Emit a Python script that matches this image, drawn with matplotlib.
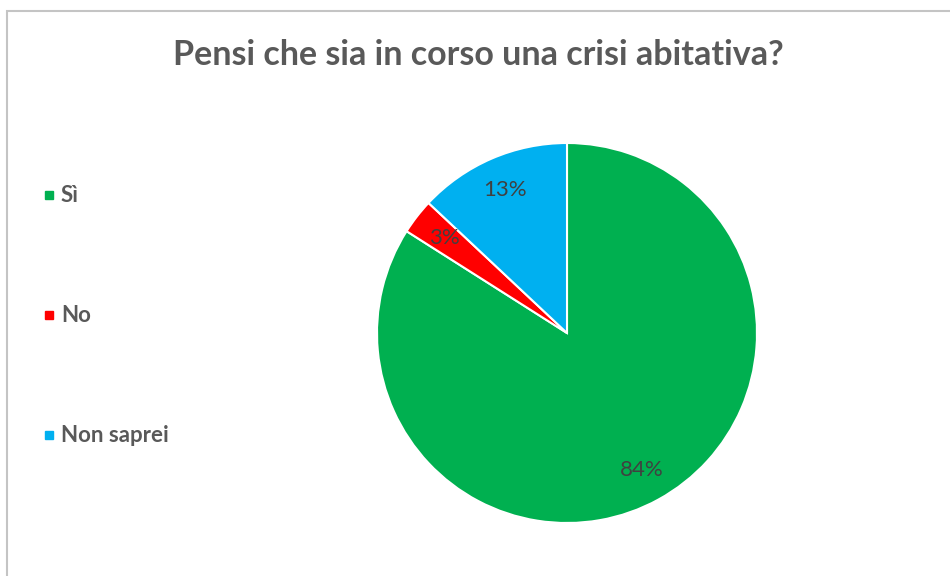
import matplotlib
matplotlib.use('Agg')
import matplotlib.pyplot as plt
from matplotlib.lines import Line2D
from matplotlib.patches import Rectangle

plt.rcParams['font.family'] = ['Lato', 'DejaVu Sans']

# Data
labels = ['Sì', 'No', 'Non saprei']
values = [84, 3, 13]
colors = ['#00B050', '#FF0000', '#00B0F0']

TITLE = 'Pensi che sia in corso una crisi abitativa?'
GRAY = '#595959'
DARK = '#404040'

W, H = 950, 576
fig = plt.figure(figsize=(W / 100, H / 100), dpi=100, facecolor='white')

# Chart frame (cropped on right and bottom)
fig.add_artist(Rectangle((6.5 / W, -0.1), 1.2, (H - 10.5) / H + 0.1,
                         transform=fig.transFigure, fill=False,
                         edgecolor='#C4C4C4', linewidth=1.5))

# Pie: centre (567, 333) px, radius 190 px
cx, cy, r = 567, 333, 190
ax = fig.add_axes([(cx - r) / W, (H - cy - r) / H, 2 * r / W, 2 * r / H])
wedges, _, autotexts = ax.pie(values, colors=colors, startangle=90,
                              counterclock=False, autopct='%1.0f%%',
                              pctdistance=0.82,
                              wedgeprops=dict(edgecolor='white', linewidth=1.5),
                              textprops=dict(color=DARK, fontsize=16))
ax.set_xlim(-1, 1)
ax.set_ylim(-1, 1)
ax.set_aspect('equal')
ax.axis('off')

# Title
fig.text(478 / W, 1 - 55 / H, TITLE, ha='center', va='center',
         fontsize=24.5, fontweight='bold', color=GRAY)

# Legend
leg_y = [195, 315, 435]
for lab, col, y in zip(labels, colors, leg_y):
    fig.add_artist(Line2D([49 / W], [1 - y / H], marker='s', markersize=6,
                          color=col, linestyle='none',
                          transform=fig.transFigure))
    fig.text(61 / W, 1 - y / H, lab, ha='left', va='center',
             fontsize=16, fontweight='bold', color=GRAY)

fig.savefig('out.png', dpi=100, facecolor='white')
plt.close()
